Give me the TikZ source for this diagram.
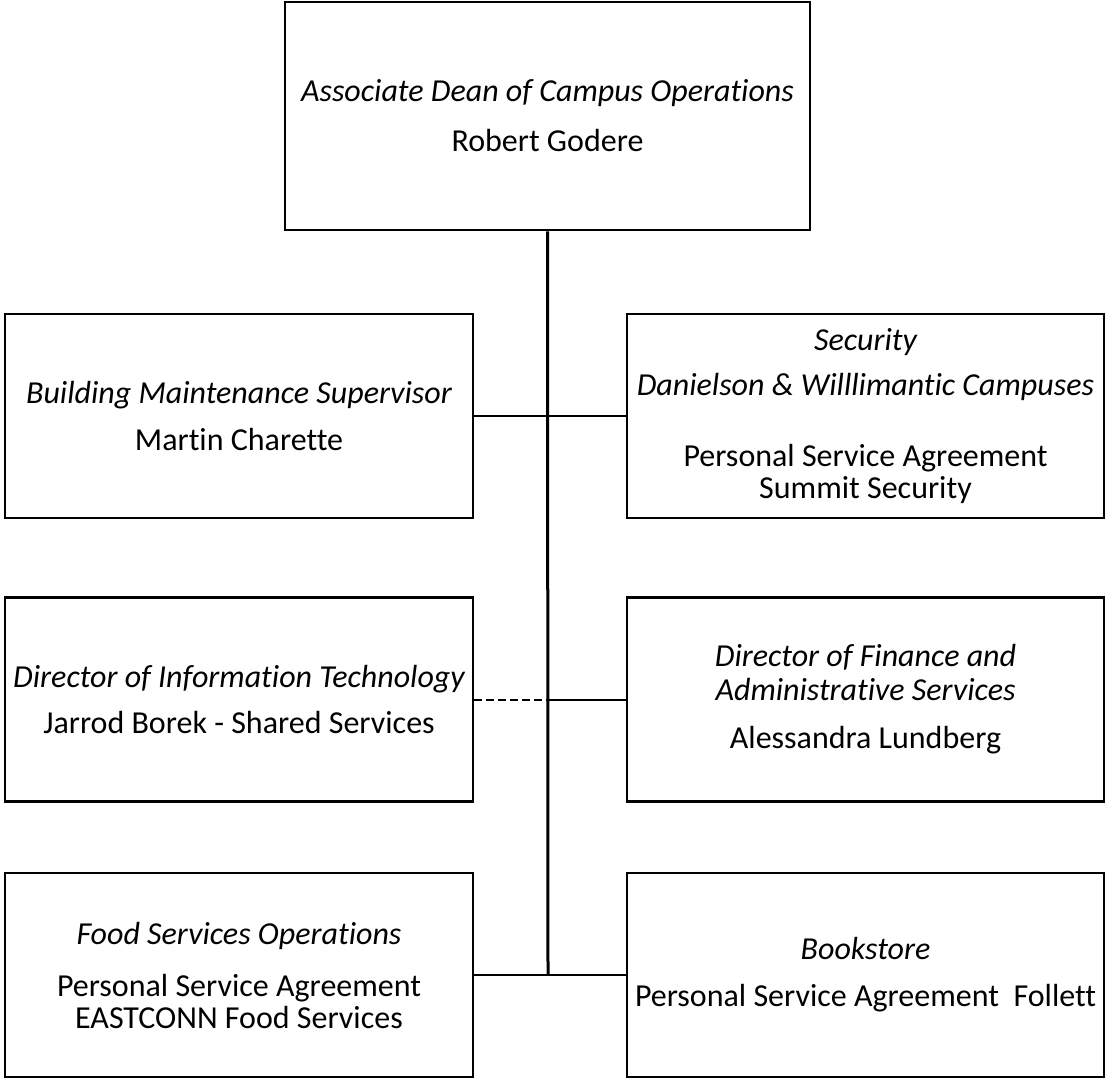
\documentclass[tikz,border=0pt]{standalone}
\usepackage{fontspec}
\setmainfont[Ligatures=NoCommon]{Carlito}
\begin{document}
\begin{tikzpicture}[x=1pt,y=-1pt,
  box/.style={draw=black, line width=2.5pt, fill=white, inner sep=0pt, align=center,
    font=\fontsize{32}{32}\selectfont},
  topbox/.style={box, minimum width=525pt, minimum height=228pt},
  lbox/.style={box, minimum width=468pt, minimum height=204pt},
  rbox/.style={box, minimum width=477pt, minimum height=204pt},
  trunk/.style={line width=3pt},
  link/.style={line width=2pt},
  dlink/.style={line width=2pt, dash pattern=on 8pt off 4pt}]
\useasboundingbox (0,0) rectangle (1107,1080);
\fill[white] (0,0) rectangle (1107,1080);

\node[topbox] (top) at (547.5,116) {{\itshape Associate Dean of Campus Operations}\\[18pt]Robert Godere};

\node[lbox] (l1) at (239,416) {{\itshape Building Maintenance Supervisor}\\[15pt]Martin Charette};
\node[rbox] (r1) at (865.5,416) {{\itshape Security}\\[13pt]{\itshape Danielson \& Willlimantic Campuses}\\[39pt]Personal Service Agreement\\Summit Security};

\node[lbox] (l2) at (239,699.5) {{\itshape Director of Information Technology}\\[14pt]Jarrod Borek - Shared Services};
\node[rbox] (r2) at (865.5,699.5) {{\itshape Director of Finance and}\\[2pt]{\itshape Administrative Services}\\[16pt]Alessandra Lundberg};

\node[lbox] (l3) at (239,975) {{\itshape Food Services Operations}\\[20pt]Personal Service Agreement\\EASTCONN Food Services};
\node[rbox] (r3) at (865.5,975) {{\itshape Bookstore}\\[15pt]Personal Service Agreement\ \ Follett};

\coordinate (j2) at (548,699.5);
\coordinate (bot) at (548,975);

\draw[trunk] (top.south) -- (bot);
\draw[link] (l1.east) -- (r1.west);
\draw[dlink] (l2.east) -- (j2);
\draw[link] (j2) -- (r2.west);
\draw[link] (l3.east) -- (r3.west);
\end{tikzpicture}
\end{document}
